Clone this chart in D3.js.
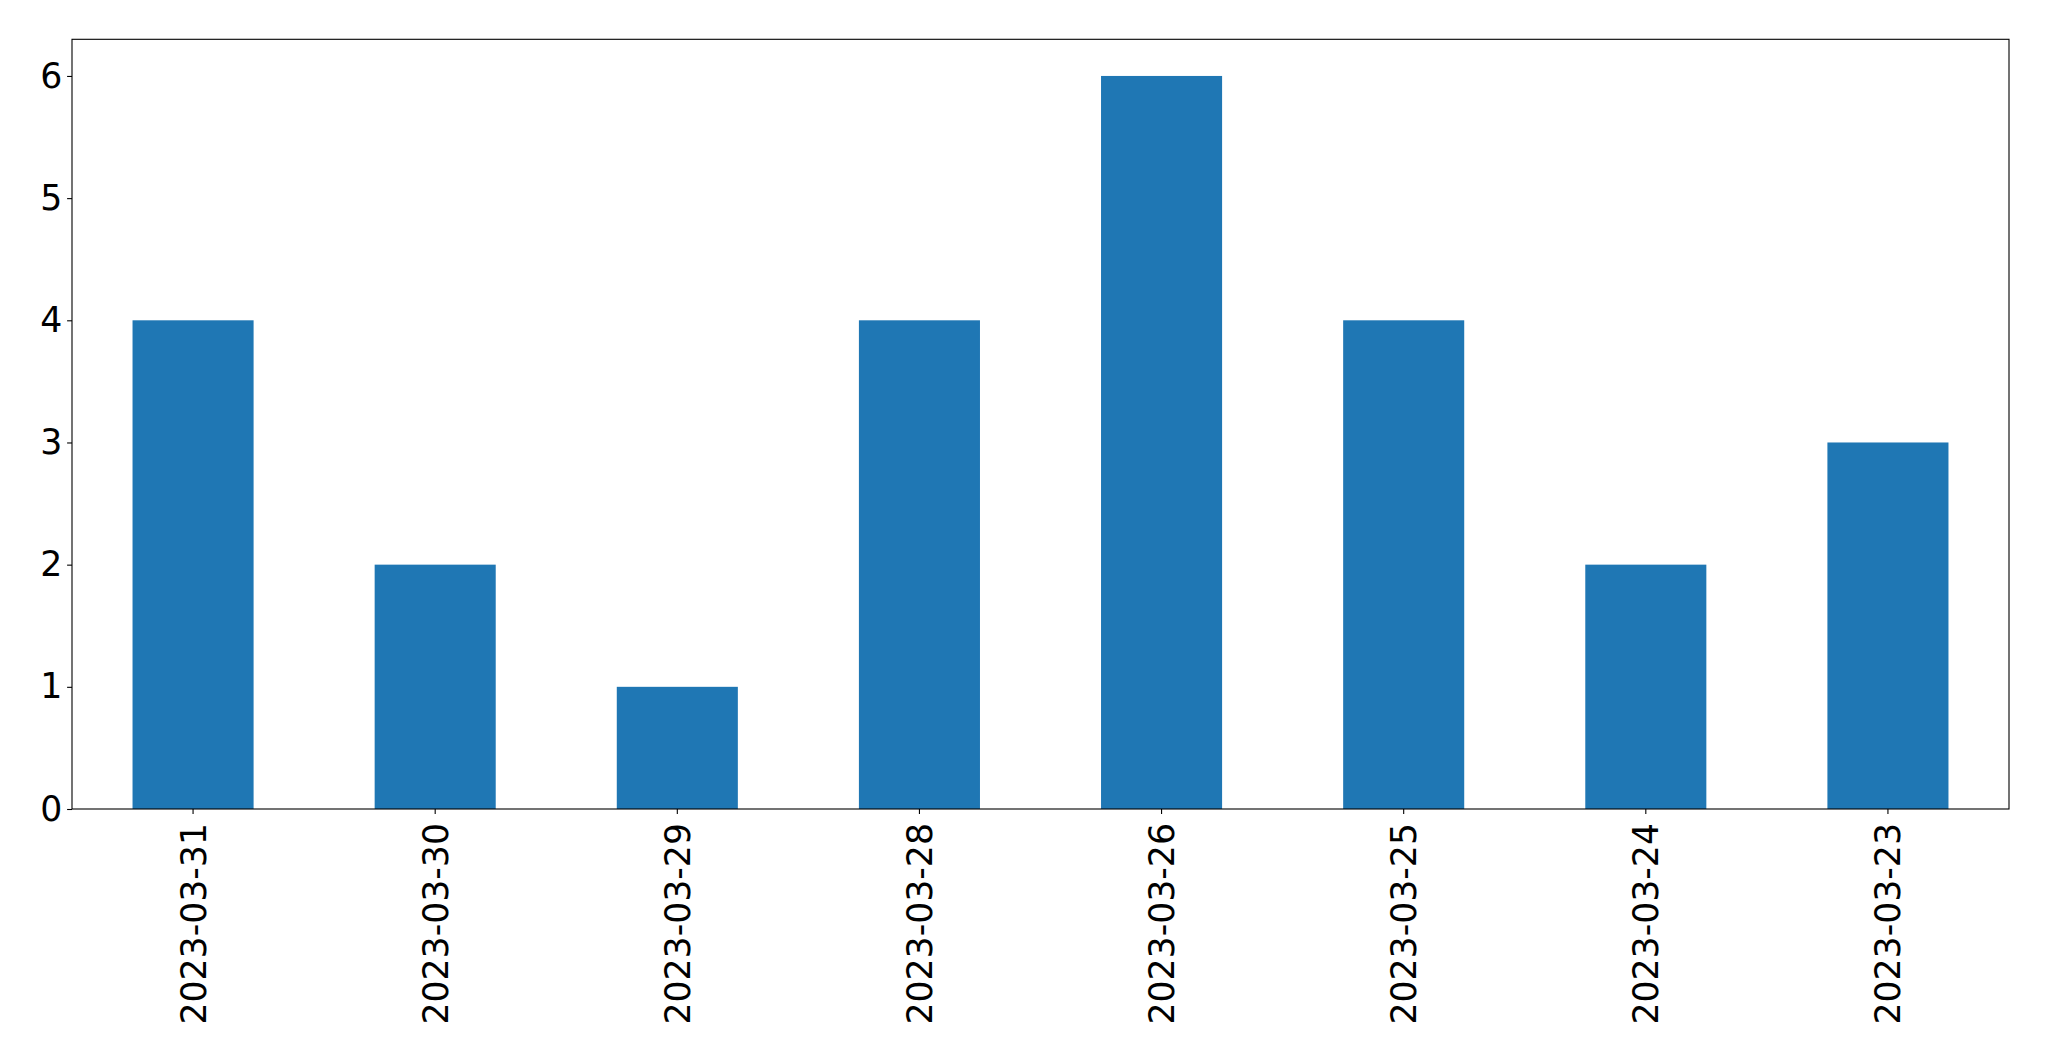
<!DOCTYPE html>
<html>
<head>
<meta charset="utf-8">
<script src="https://cdn.jsdelivr.net/npm/d3@7"></script>
<style>
  html, body { margin: 0; padding: 0; background: #ffffff; }
  svg { display: block; }
</style>
</head>
<body>
<script>
const categories = ["2023-03-31", "2023-03-30", "2023-03-29", "2023-03-28", "2023-03-26", "2023-03-25", "2023-03-24", "2023-03-23"];
const values = [4, 2, 1, 4, 6, 4, 2, 3];
const yTicks = [0, 1, 2, 3, 4, 5, 6];

const W = 2049, H = 1061;
const margin = { left: 72, right: 2049 - 2009, top: 39.3, bottom: 1061 - 809 };
const fontSize = 34.7;

const svg = d3.select("body").append("svg").attr("width", W).attr("height", H);

const x = d3.scaleBand().domain(categories).range([margin.left, W - margin.right]).paddingInner(0.5).paddingOuter(0.25);
const y = d3.scaleLinear().domain([0, 6.3]).range([H - margin.bottom, margin.top]);

svg.append("g").selectAll("rect").data(values).join("rect")
  .attr("x", (d, i) => x(categories[i]))
  .attr("width", x.bandwidth())
  .attr("y", d => y(d))
  .attr("height", d => y(0) - y(d))
  .attr("fill", "#1f77b4");

// frame
svg.append("rect")
  .attr("x", margin.left).attr("y", margin.top)
  .attr("width", W - margin.right - margin.left)
  .attr("height", H - margin.bottom - margin.top)
  .attr("fill", "none").attr("stroke", "#000").attr("stroke-width", 1.1);

const yAxis = svg.append("g").attr("transform", `translate(${margin.left},0)`)
  .call(d3.axisLeft(y).tickValues(yTicks).tickFormat(d3.format("d")).tickSize(4.9).tickPadding(4.9));
yAxis.select(".domain").remove();
yAxis.selectAll("line").attr("stroke", "#000").attr("stroke-width", 1.1);
yAxis.selectAll("text").attr("font-family", "DejaVu Sans").attr("font-size", fontSize).attr("fill", "#000");

const xAxis = svg.append("g").attr("transform", `translate(0,${H - margin.bottom})`)
  .call(d3.axisBottom(x).tickSize(4.9).tickPadding(4.9));
xAxis.select(".domain").remove();
xAxis.selectAll("line").attr("stroke", "#000").attr("stroke-width", 1.1);
xAxis.selectAll("text")
  .attr("font-family", "DejaVu Sans").attr("font-size", fontSize).attr("fill", "#000")
  .attr("text-anchor", "end")
  .attr("transform", "rotate(-90)")
  .attr("x", -14).attr("y", 0).attr("dy", "0.36em");
</script>
</body>
</html>
